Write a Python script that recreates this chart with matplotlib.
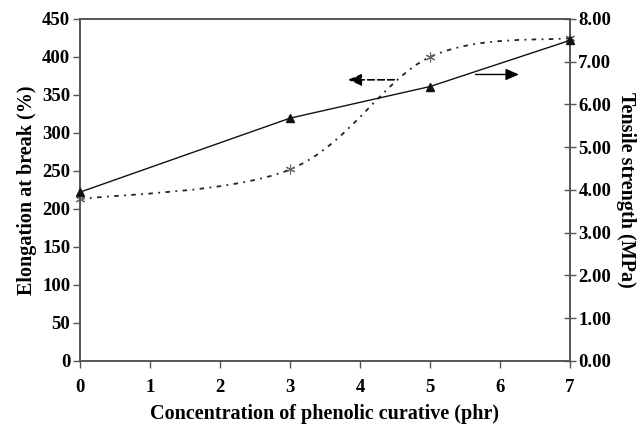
import numpy as np
import matplotlib
matplotlib.use("Agg")
import matplotlib.pyplot as plt
from matplotlib.path import Path
from matplotlib.patches import PathPatch
from matplotlib.ticker import FormatStrFormatter

concentration = [0, 3, 5, 7]
elongation = [213, 252, 400, 425]        # %, left axis (dotted, smoothed)
tensile = [3.95, 5.68, 6.42, 7.50]       # MPa, right axis (solid)

x_ticks = [0, 1, 2, 3, 4, 5, 6, 7]
left_ticks = [0, 50, 100, 150, 200, 250, 300, 350, 400, 450]
right_ticks = [0, 1, 2, 3, 4, 5, 6, 7, 8]

plt.rcParams['font.family'] = ['Liberation Serif', 'DejaVu Serif']
plt.rcParams['font.weight'] = 'bold'

fig = plt.figure(figsize=(6.38, 4.24), dpi=100)
ax = fig.add_axes([0.1254, 0.1486, 0.768, 0.8066])
ax2 = ax.twinx()

spine_col = '#555555'

# smoothed curve (Excel-style Bezier) for elongation
pts = np.column_stack([concentration, elongation]).astype(float)
n = len(pts)
verts = [tuple(pts[0])]
codes = [Path.MOVETO]
for i in range(n - 1):
    p_prev = pts[i - 1] if i > 0 else pts[i]
    p0 = pts[i]
    p1 = pts[i + 1]
    p_next = pts[i + 2] if i + 2 < n else pts[i + 1]
    c1 = p0 + (p1 - p_prev) / 6.0
    c2 = p1 - (p_next - p0) / 6.0
    verts += [tuple(c1), tuple(c2), tuple(p1)]
    codes += [Path.CURVE4] * 3
curve = PathPatch(Path(verts, codes), facecolor='none', edgecolor='#222222',
                  lw=1.3, linestyle=(0, (2.5, 3, 1, 3)))
ax.add_patch(curve)
ax.plot(concentration, elongation, linestyle='none', marker=(6, 2, 0),
        markersize=7, markeredgewidth=0.8, color='#666666', zorder=4, clip_on=False)

ax2.plot(concentration, tensile, color='#111111', lw=1.0, marker='^',
         markersize=6, clip_on=False, zorder=5)

ax.set_xlim(0, 7)
ax.set_ylim(0, 450)
ax2.set_ylim(0, 8)
ax.set_xticks(x_ticks)
ax.set_yticks(left_ticks)
ax2.set_yticks(right_ticks)
ax2.yaxis.set_major_formatter(FormatStrFormatter('%.2f'))

for a in (ax, ax2):
    for s in a.spines.values():
        s.set_color(spine_col)
        s.set_linewidth(1.2)

ax.tick_params(axis='x', direction='out', length=5, width=1.0, color=spine_col,
               labelsize=13.5, pad=8)
ax.tick_params(axis='y', direction='out', length=5, width=1.0, color=spine_col,
               labelsize=13.5, pad=2)
ax2.tick_params(axis='y', direction='inout', length=8, width=1.0, color=spine_col,
                labelsize=13.5, pad=2)
for lab in ax.get_xticklabels() + ax.get_yticklabels() + ax2.get_yticklabels():
    lab.set_fontweight('bold')

ax.set_xlabel('Concentration of phenolic curative (phr)', fontsize=14.5,
              fontweight='bold', labelpad=6)
ax.set_ylabel('Elongation at break (%)', fontsize=14.5, fontweight='bold', labelpad=4)
ax2.set_ylabel('Tensile strength (MPa)', fontsize=14.5, fontweight='bold',
               rotation=270, labelpad=18)

# indicator arrows
ax.annotate('', xy=(3.79, 370), xytext=(4.53, 370),
            arrowprops=dict(arrowstyle='-|>,head_length=0.8,head_width=0.35',
                            color='black', lw=1.2, linestyle=(0, (4, 2))))
ax.annotate('', xy=(6.31, 377), xytext=(5.61, 377),
            arrowprops=dict(arrowstyle='-|>,head_length=0.8,head_width=0.35',
                            color='black', lw=1.0))

fig.savefig('out.png', dpi=100)
